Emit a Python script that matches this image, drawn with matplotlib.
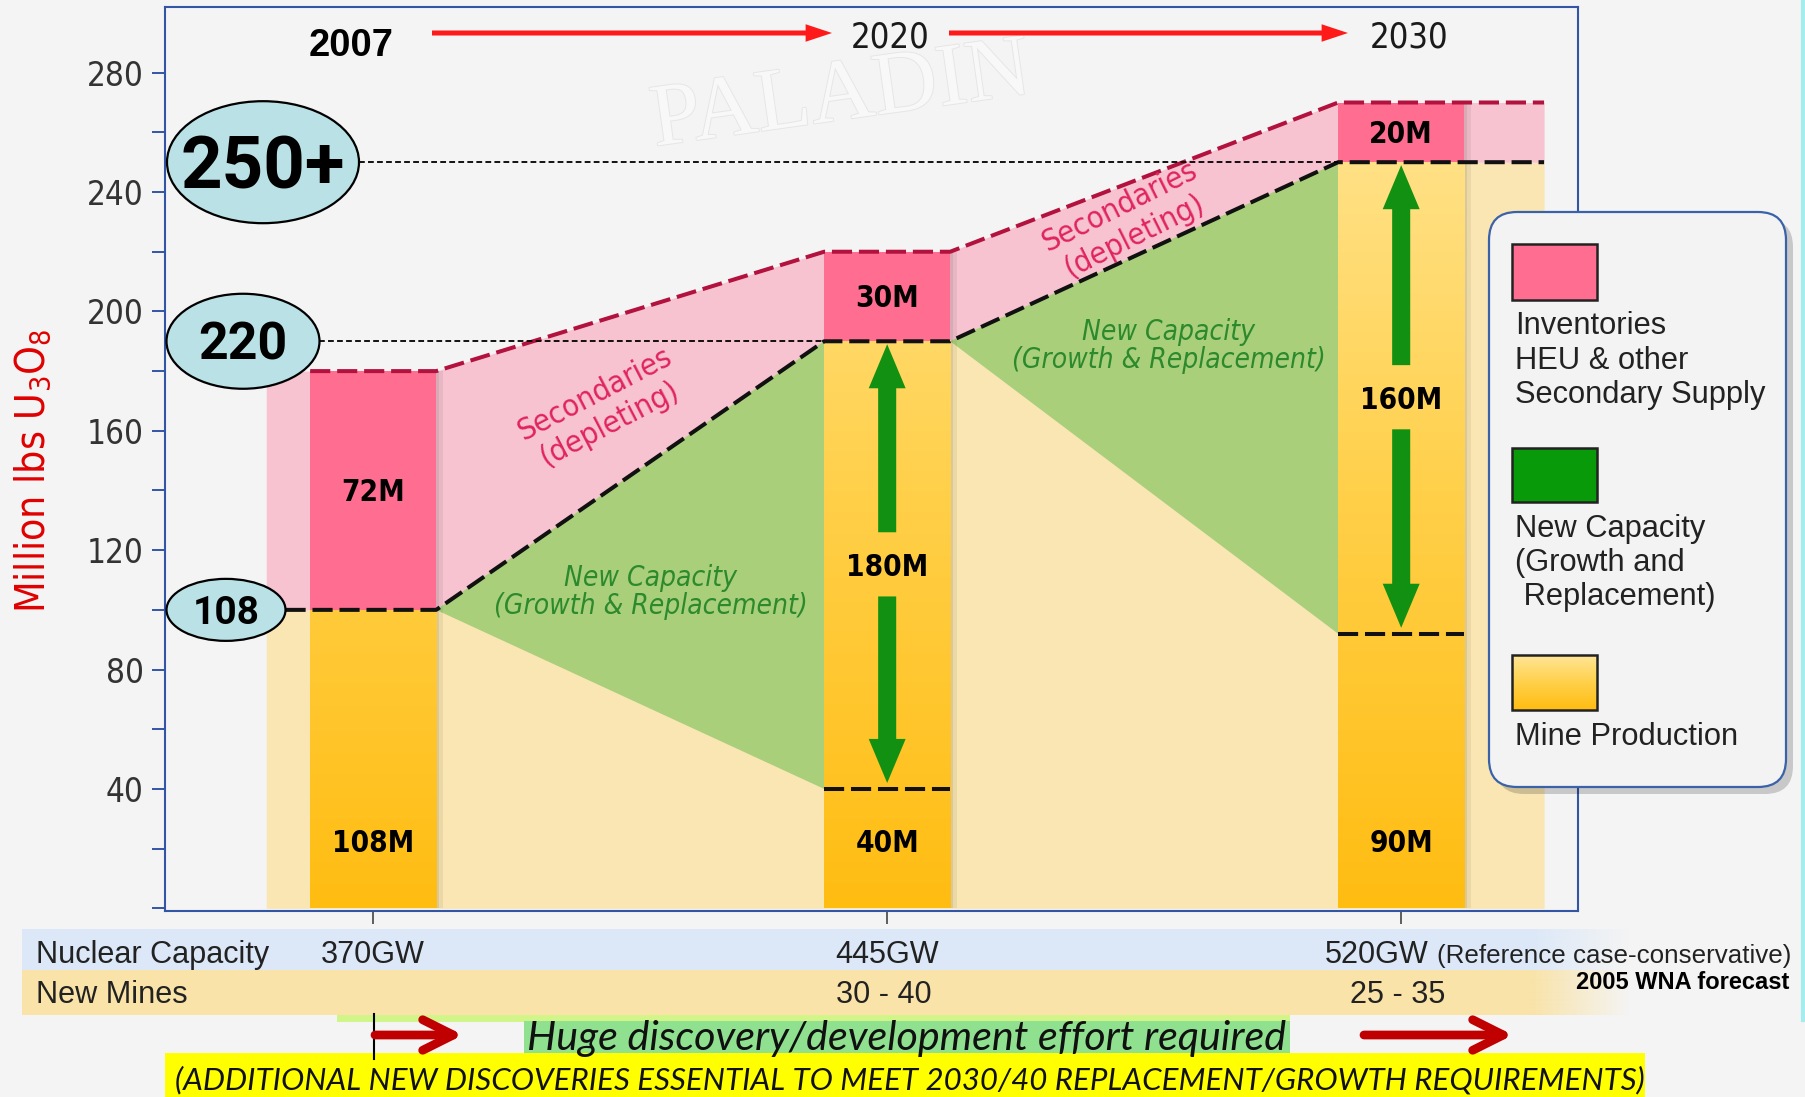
import numpy as np
import matplotlib
matplotlib.use('Agg')
import matplotlib.pyplot as plt
from matplotlib import font_manager as fm
from matplotlib.patches import Rectangle, Ellipse, FancyBboxPatch, Polygon, ArrowStyle
from matplotlib.colors import LinearSegmentedColormap, to_rgb
import matplotlib.patheffects as pe

# ------------------------------------------------------------------ data
years = ['2007', '2020', '2030']
mine_existing = [100, 40, 92]      # production from existing mines (dashed level)
supply_total = [100, 190, 250]     # mine production incl. new capacity
demand_total = [180, 220, 270]     # total requirement incl. secondary supply
mine_labels = ['108M', '40M', '90M']
secondary_labels = ['72M', '30M', '20M']
new_capacity_labels = ['', '180M', '160M']
nuclear_capacity = ['370GW', '445GW', '520GW']
capacity_note = '(Reference case-conservative)'
new_mines = ['', '30 - 40', '25 - 35']
callout_labels = ['250+', '220', '108']
callout_levels = [250, 190, 100]
callout_year_idx = [2, 1, 0]
y_ticks = list(range(0, 281, 20))
y_tick_labels = [str(v) if (v % 40 == 0 and v > 0) else '' for v in y_ticks]
legend_labels = [['Inventories', 'HEU & other', 'Secondary Supply'],
                 ['New Capacity', '(Growth and', ' Replacement)'],
                 ['Mine Production']]

# ------------------------------------------------------------------ layout / style
W, H, DPI = 1806, 1097, 100
AX_L, AX_R, AX_T, AX_B = 165, 1578, 7, 911
XLIM = (-0.405, 2.344)
YLIM = (-0.9, 302.0)
HW = 0.1226
REG_L, REG_R = -0.208, 2.278
BG = '#f4f4f4'
C_PALE_Y = '#fae6b2'
C_PALE_P = '#f7c3d1'
C_PINK = '#ff6e91'
C_GREEN_AREA = '#a9cf7b'
C_ARROW_G = '#129012'
C_SPINE = '#3355a5'
SANS = ['Liberation Sans', 'DejaVu Sans']
BOLDNUM = ['Roboto', 'DejaVu Sans']
HUMAN = ['Lato', 'Open Sans', 'DejaVu Sans']
plt.rcParams['font.family'] = SANS

# pick a condensed face if one is installed
_fonts = fm.fontManager.ttflist
if any(f.name == 'Liberation Sans Narrow' for f in _fonts):
    NKW = dict(family=['Liberation Sans Narrow', 'Liberation Sans', 'DejaVu Sans'])
elif any(f.name == 'DejaVu Sans' and f.stretch == 'condensed' for f in _fonts):
    NKW = dict(family=['DejaVu Sans'], stretch='condensed')
else:
    NKW = dict(family=SANS)

CALLOUT_CX_PX = [263, 243, 226]
CALLOUT_W_PX = [192, 153, 119]
CALLOUT_H_PX = [122, 95, 62]
CALLOUT_TEXT_W_PX = [164, 89, 67]

bar_cmap = LinearSegmentedColormap.from_list('bar', ['#ffbd12', '#ffd04a', '#ffe595'])

fig = plt.figure(figsize=(W / DPI, H / DPI), dpi=DPI, facecolor=BG)
ax = fig.add_axes([AX_L / W, 1 - AX_B / H, (AX_R - AX_L) / W, (AX_B - AX_T) / H])
ax.set_facecolor(BG)
renderer = fig.canvas.get_renderer()

SX = (AX_R - AX_L) / (XLIM[1] - XLIM[0])   # px per x unit
SY = (AX_B - AX_T) / (YLIM[1] - YLIM[0])   # px per y unit


def xpx2data(xp):
    return XLIM[0] + (xp - AX_L) / SX


def xdata2px(xd):
    return AX_L + (xd - XLIM[0]) * SX


def measure(s, fs, **kw):
    t = fig.text(0, 0, s, fontsize=fs, **kw)
    bb = t.get_window_extent(renderer=renderer)
    t.remove()
    return bb.width, bb.height


def size_for_width(s, target, **kw):
    w, _ = measure(s, 20, **kw)
    return 20 * target / w


def fit_width(t, target):
    bb = t.get_window_extent(renderer=renderer)
    t.set_fontsize(t.get_fontsize() * target / bb.width)
    return t.get_fontsize()


def clabel(axis, x, y, s, fs, **kw):
    axis.annotate(s, xy=(x, y), xytext=(0, -0.358 * fs), textcoords='offset points',
                  ha='center', va='baseline', fontsize=fs, **kw)


n = len(years)
xs = np.arange(n)

# band paths
path_x, sup_y, dem_y = [REG_L], [supply_total[0]], [demand_total[0]]
for i in range(n):
    if i > 0:
        path_x.append(xs[i] - HW); sup_y.append(supply_total[i]); dem_y.append(demand_total[i])
    if i < n - 1:
        path_x.append(xs[i] + HW); sup_y.append(supply_total[i]); dem_y.append(demand_total[i])
path_x.append(REG_R); sup_y.append(supply_total[-1]); dem_y.append(demand_total[-1])

ax.fill_between(path_x, 0, sup_y, color=C_PALE_Y, lw=0, zorder=1)
ax.fill_between(path_x, sup_y, dem_y, color=C_PALE_P, lw=0, zorder=1)
for i in range(n - 1):
    ax.add_patch(Polygon([(xs[i] + HW, supply_total[i]),
                          (xs[i + 1] - HW, supply_total[i + 1]),
                          (xs[i + 1] - HW, mine_existing[i + 1])],
                         closed=True, fc=C_GREEN_AREA, ec='none', zorder=2))

# bar shadows
for off, al in [(0.006, 0.07), (0.014, 0.06)]:
    ax.bar(xs + off, demand_total, width=2 * HW, color='k', alpha=al, lw=0, zorder=2.6)
# bars: gradient mine production + pink secondaries
for i in range(n):
    grad = np.linspace(0, supply_total[i], 256)[:, None]
    ax.imshow(grad, extent=(xs[i] - HW, xs[i] + HW, 0, supply_total[i]), origin='lower',
              cmap=bar_cmap, vmin=0, vmax=280, aspect='auto', interpolation='bilinear', zorder=3)
ax.bar(xs, np.subtract(demand_total, supply_total), bottom=supply_total, width=2 * HW,
       color=C_PINK, lw=0, zorder=3)

# dashed lines
red_x = [xs[0] - HW] + path_x[1:]
ax.plot(red_x, dem_y, color='#b3123e', lw=2.9, dashes=(5, 1.7), zorder=5)
call_right = [xpx2data(CALLOUT_CX_PX[k] + CALLOUT_W_PX[k] / 2) for k in range(3)]
blk_x = [call_right[2]] + path_x[1:]
ax.plot(blk_x, sup_y, color='#111111', lw=2.9, dashes=(5, 1.7), zorder=5)
for i in range(1, n):
    ax.plot([xs[i] - HW, xs[i] + HW], [mine_existing[i]] * 2, color='#111111', lw=2.9,
            dashes=(5, 1.7), zorder=5)

# callouts
for k in range(3):
    cx = xpx2data(CALLOUT_CX_PX[k])
    lvl = callout_levels[k]
    if k < 2:
        ax.plot([call_right[k], xs[callout_year_idx[k]] - HW], [lvl, lvl], color='k', lw=1.3,
                dashes=(3.2, 1.8), zorder=5)
    ax.add_patch(Ellipse((cx, lvl), CALLOUT_W_PX[k] / SX, CALLOUT_H_PX[k] / SY, fc='#bae2e6',
                         ec='k', lw=1.6, zorder=6, clip_on=False))
    fs = size_for_width(callout_labels[k], CALLOUT_TEXT_W_PX[k], family=BOLDNUM, fontweight='bold')
    clabel(ax, cx, lvl, callout_labels[k], fs, fontweight='bold', family=BOLDNUM, color='k',
           zorder=7, annotation_clip=False)

# green arrows + labels
BAR_FS = size_for_width('108M', 76, fontweight='bold', **NKW) * 1.08
gstyle = ArrowStyle('simple', head_length=31.7, head_width=26.6, tail_width=13)
for i in range(n):
    if new_capacity_labels[i]:
        mid = (supply_total[i] + mine_existing[i]) / 2
        ax.annotate('', xy=(xs[i], supply_total[i] - 1), xytext=(xs[i], mid + 11),
                    arrowprops=dict(arrowstyle=gstyle, fc=C_ARROW_G, ec='none', shrinkA=0,
                                    shrinkB=0, mutation_scale=1), zorder=7)
        ax.annotate('', xy=(xs[i], mine_existing[i] + 2), xytext=(xs[i], mid - 10.5),
                    arrowprops=dict(arrowstyle=gstyle, fc=C_ARROW_G, ec='none', shrinkA=0,
                                    shrinkB=0, mutation_scale=1), zorder=7)
        clabel(ax, xs[i], mid, new_capacity_labels[i], BAR_FS, fontweight='bold', color='k',
               zorder=8, **NKW)
    clabel(ax, xs[i], 22.5, mine_labels[i], BAR_FS, fontweight='bold', color='k', zorder=8, **NKW)
    clabel(ax, xs[i], (supply_total[i] + demand_total[i]) / 2, secondary_labels[i], BAR_FS,
           fontweight='bold', color='k', zorder=8, **NKW)

# axes styling
TICK_FS = size_for_width('280', 57, **NKW)
ax.set_xlim(*XLIM)
ax.set_ylim(*YLIM)
ax.set_yticks(y_ticks, y_tick_labels, fontsize=TICK_FS, color='#333333', **NKW)
ax.tick_params(axis='y', length=9.4, width=1.4, color=C_SPINE, pad=6)
ax.set_xticks(xs, [''] * n)
ax.tick_params(axis='x', length=9, width=1.2, color='#444444')
for s in ax.spines.values():
    s.set_color(C_SPINE)
    s.set_linewidth(1.5)

# ------------------------------------------------------------------ overlay (annotations)
ov = fig.add_axes([0, 0, 1, 1], zorder=10)
ov.patch.set_visible(False)
ov.axis('off')

# watermark
ov.text(841, 98, 'PALADIN', family=['Liberation Serif', 'DejaVu Serif'], fontsize=64,
        color='#f8f8f8', rotation=8, ha='center', va='center', zorder=0,
        path_effects=[pe.withStroke(linewidth=1.4, foreground='#e6e6e6')])

# y label
t = ov.text(33, 471, 'Million lbs U$_\\mathregular{3}$O$_\\mathregular{8}$', rotation=90,
            ha='center', va='center', fontsize=30, color='#e00000', **NKW)
bb = t.get_window_extent(renderer=renderer)
t.set_fontsize(30 * 284 / bb.height)

# top years and arrows
ov.text(351, 56, years[0], ha='center', va='baseline', family=SANS, fontweight='bold',
        fontsize=size_for_width(years[0], 85, family=SANS, fontweight='bold'), color='k')
YFS = size_for_width(years[1], 79, **NKW)
ov.text(890, 47, years[1], ha='center', va='baseline', fontsize=YFS, color='#1a1a1a', **NKW)
ov.text(1409, 47, years[2], ha='center', va='baseline', fontsize=YFS, color='#1a1a1a', **NKW)
rstyle = ArrowStyle('simple', head_length=19, head_width=12.6, tail_width=3.6)
for (x0, x1) in [(432, 832), (949, 1348)]:
    ov.annotate('', xy=(x1, 33), xytext=(x0, 33),
                arrowprops=dict(arrowstyle=rstyle, fc='#ff1a1a', ec='none', shrinkA=0,
                                shrinkB=0, mutation_scale=1))

# Area labels
SEC_FS = size_for_width('Secondaries', 170, **NKW)
for (cx, cy, rot) in [(602, 409, 27.5), (1127, 221, 26.5)]:
    ov.text(cx, cy, 'Secondaries\n(depleting)', rotation=rot, rotation_mode='anchor',
            ha='center', va='center', multialignment='center', fontsize=SEC_FS,
            color='#e0245e', linespacing=1.15, **NKW)
for (cx, cy) in [(651, 592), (1169, 346)]:
    t = ov.text(cx, cy, 'New Capacity\n(Growth & Replacement)', ha='center', va='center',
                multialignment='center', style='italic', fontsize=24,
                color='#2c8a2c', linespacing=1.0, **NKW)
    fit_width(t, 314)

# legend
ov.add_patch(FancyBboxPatch((1496, 219), 297, 575, boxstyle='round,pad=0,rounding_size=28',
                            fc='#000000', ec='none', alpha=0.18, zorder=1))
ov.add_patch(FancyBboxPatch((1489, 212), 297, 575, boxstyle='round,pad=0,rounding_size=28',
                            fc='#f3f3f3', ec='#3a62a8', lw=1.6, zorder=2))
ov.add_patch(Rectangle((1512, 244), 85, 56, fc=C_PINK, ec='#222222', lw=1.8, zorder=3))
ov.add_patch(Rectangle((1512, 448), 85, 54, fc='#089a08', ec='#222222', lw=1.8, zorder=3))
lg_grad = np.linspace(1, 0, 64)[:, None]
ov.imshow(lg_grad, extent=(1512, 1597, 710, 655), cmap=bar_cmap, vmin=0, vmax=1,
          aspect='auto', interpolation='bilinear', zorder=3)
ov.add_patch(Rectangle((1512, 655), 85, 55, fc='none', ec='#222222', lw=1.8, zorder=4))
lfs = size_for_width(legend_labels[0][2], 250, family=SANS)
legend_baselines = [[334.5, 369, 403], [536.5, 571, 605.5], [745]]
for grp, bls in zip(legend_labels, legend_baselines):
    for line, bl in zip(grp, bls):
        ov.text(1515, bl, line, family=SANS, fontsize=lfs, va='baseline', ha='left',
                color='#222222', zorder=5)

# bottom table rows
ov.add_patch(Rectangle((22, 929), 1530 - 22, 41, fc='#dce8f8', ec='none', zorder=1))
ov.add_patch(Rectangle((22, 970), 1530 - 22, 45, fc='#f9e3a8', ec='none', zorder=1))
for col, (y0, y1) in [('#dce8f8', (929, 970)), ('#f9e3a8', (970, 1015))]:
    rgba = np.zeros((1, 100, 4))
    rgba[..., :3] = to_rgb(col)
    rgba[..., 3] = np.linspace(1, 0, 100)
    ov.imshow(rgba, extent=(1530, 1630, y1, y0), aspect='auto', interpolation='bilinear', zorder=1)

rfs = size_for_width('Nuclear Capacity', 233, family=SANS)
ov.text(36, 963, 'Nuclear Capacity', family=SANS, fontsize=rfs, va='baseline', ha='left',
        color='#222222', zorder=3)
ov.text(36, 1003, 'New Mines', family=SANS, fontsize=rfs, va='baseline', ha='left',
        color='#222222', zorder=3)
for i in range(n):
    px = xdata2px(xs[i])
    if i < n - 1:
        ov.text(px, 963, nuclear_capacity[i], family=SANS, fontsize=rfs, va='baseline',
                ha='center', color='#222222', zorder=3)
    else:
        ov.text(1325, 963, nuclear_capacity[i], family=SANS, fontsize=rfs, va='baseline',
                ha='left', color='#222222', zorder=3)
    if new_mines[i]:
        ov.text(px - 3, 1003, new_mines[i], family=SANS, fontsize=rfs, va='baseline',
                ha='center', color='#222222', zorder=3)
t = ov.text(1437, 963, capacity_note, family=SANS, fontsize=18.5, va='baseline', ha='left',
            color='#222222', zorder=3)
fit_width(t, 355)
t = ov.text(1576, 989, '2005 WNA forecast', family=SANS, fontweight='bold', fontsize=16.5,
            va='baseline', ha='left', color='k', zorder=3)
fit_width(t, 212)

# bottom message area
ov.add_patch(Rectangle((337, 1015), 1290 - 337, 7, fc='#d2f58a', ec='none', zorder=1))
ov.add_patch(Rectangle((524, 1021), 1290 - 524, 34, fc='#8fe08f', ec='none', zorder=1))
ov.add_patch(Rectangle((165, 1053), 1645 - 165, 44, fc='#ffff00', ec='none', zorder=2))
ov.plot([374, 374], [1014, 1059], color='k', lw=1.5, zorder=3)
dstyle = ArrowStyle('->', head_length=22, head_width=11)
for (x0, x1) in [(375, 463), (1364, 1513)]:
    ov.annotate('', xy=(x1, 1035), xytext=(x0, 1035),
                arrowprops=dict(arrowstyle=dstyle, color='#c00000', lw=6.3, shrinkA=0,
                                shrinkB=0, mutation_scale=1, capstyle='round',
                                joinstyle='round'), zorder=3)
t = ov.text(527, 1050, 'Huge discovery/development effort required', family=HUMAN,
            style='italic', fontsize=24, va='baseline', ha='left', color='#111111', zorder=4)
fit_width(t, 760)
t = ov.text(175, 1089, '(ADDITIONAL NEW DISCOVERIES ESSENTIAL TO MEET 2030/40 '
            'REPLACEMENT/GROWTH REQUIREMENTS)', family=HUMAN, style='italic', fontsize=22,
            va='baseline', ha='left', color='#111111', zorder=4)
fit_width(t, 1466)

# right edge accent
ov.plot([1803, 1803], [0, 1020], color='#a5ecee', lw=3, zorder=1)

ov.set_xlim(0, W)
ov.set_ylim(H, 0)

fig.savefig('out.png', dpi=DPI, facecolor=BG)
